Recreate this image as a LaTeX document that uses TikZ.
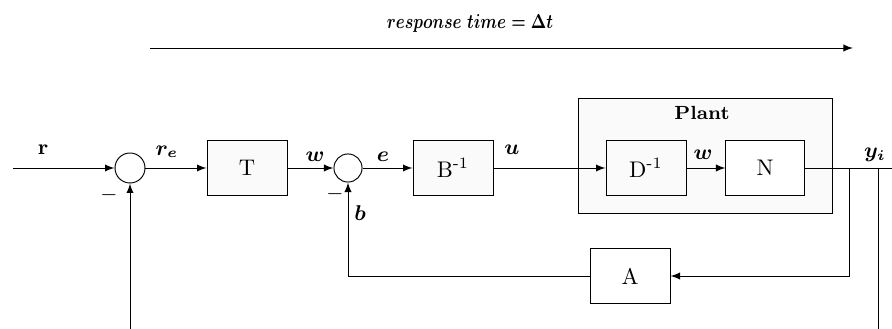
\documentclass[tikz,border=0pt]{standalone}
\usepackage{graphicx}
\usepackage{amsmath}
\usepackage{amssymb}
\usetikzlibrary{positioning}

\begin{document}
\begin{tikzpicture}[>=latex,x=0.42pt,y=-0.42pt,
    block/.style={draw,minimum width=33.6pt,minimum height=22.7pt,fill=black!2,font=\fontsize{9.5}{11}\selectfont},
    sum/.style={draw,circle,inner sep=0pt,minimum size=12.6pt},
    lbl/.style={inner sep=1pt,font=\small}]
        \useasboundingbox (0,0) rectangle (892,329);
        % time axis
        \node[lbl,font=\normalsize] (title) at (470,23) {\scalebox{0.68}[0.85]{$\boldsymbol{response\ time = \Delta t}$}};
        \coordinate (tstart) at (150,48);
        \coordinate (tend) at (853,48);
        \draw[->] (tstart) -- (tend);
        % blocks
        \coordinate (in) at (13,168);
        \node[sum] (sum1) at (130,168) {};
        \node[block] (T) at (247,168) {T};
        \node[sum,minimum size=11.8pt] (sum2) at (348,168) {};
        \node[block] (Binv) at (453,168) {B\textsuperscript{-1}};
        \node[draw,fill=black!2,minimum width=106.7pt,minimum height=48.3pt] (plant) at (705,155.5) {};
        \node[lbl,font=\footnotesize] (plantlbl) at (702,113) {\textbf{Plant}};
        \node[block] (Dinv) at (646,168) {D\textsuperscript{-1}};
        \node[block,fill=white,minimum width=32.8pt] (N) at (765,168) {N};
        \node[block,fill=white] (A) at (630,276) {A};
        \coordinate (out) at (892,168);
        \coordinate (br1) at (849,168);
        \coordinate (br2) at (878,168);
        \coordinate (bot1) at (130,329);
        \coordinate (bot2) at (878,329);
        % signals
        \draw[->] (in) -- (sum1);
        \draw[->] (sum1) -- (T);
        \draw[->] (T) -- (sum2);
        \draw[->] (sum2) -- (Binv);
        \draw[->] (Binv) -- (Dinv);
        \draw[->] (Dinv) -- (N);
        \draw (N) -- (out);
        \draw[->] (br1) |- (A.east);
        \draw[->] (A.west) -| (sum2.south);
        \draw[->] (bot1) -- (sum1.south);
        \draw (br2) -- (bot2);
        % labels
        \node[lbl] (rlbl) at (43,150) {$\mathbf{r}$};
        \node[lbl] (relbl) at (167,152) {$\boldsymbol{r_e}$};
        \node[lbl] (wlbl) at (315,157) {$\boldsymbol{w}$};
        \node[lbl] (elbl) at (383,157) {$\boldsymbol{e}$};
        \node[lbl] (blbl) at (360,213) {$\boldsymbol{b}$};
        \node[lbl] (ulbl) at (512,150) {$\boldsymbol{u}$};
        \node[lbl] (w2lbl) at (703,155) {$\boldsymbol{w}$};
        \node[lbl] (ylbl) at (875,155) {$\boldsymbol{y_i}$};
        \node[lbl] (minus1) at (109,195) {$-$};
        \node[lbl] (minus2) at (335,194) {$-$};
    \end{tikzpicture}
\end{document}
